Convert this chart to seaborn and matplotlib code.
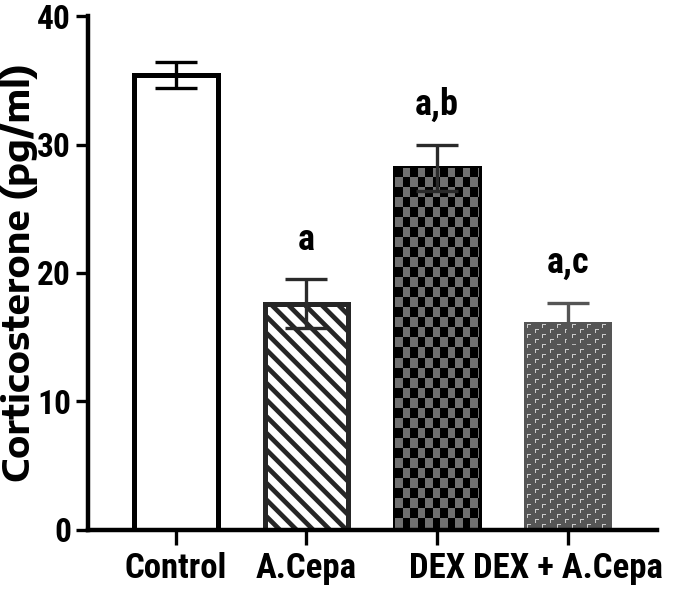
import numpy as np
import pandas as pd
import matplotlib
matplotlib.use("Agg")
import matplotlib.pyplot as plt
from matplotlib.colors import ListedColormap
import seaborn as sns

groups = ["Control", "A.Cepa", "DEX", "DEX + A.Cepa"]
means = [35.4, 17.6, 28.2, 16.0]
errors = [1.0, 1.9, 1.8, 1.7]
letters = ["", "a", "a,b", "a,c"]

face_colors = ["white", "white", "#6e6e6e", "#555555"]
edge_colors = ["black", "#262626", "black", "#555555"]
err_colors = ["black", "#2a2a2a", "#2a2a2a", "#555555"]

df = pd.DataFrame({"group": groups, "mean": means})

sns.set_style("white")
plt.rcParams["font.family"] = ["Roboto Condensed", "DejaVu Sans"]
plt.rcParams["font.weight"] = "bold"
plt.rcParams["text.color"] = "black"
plt.rcParams["xtick.color"] = "black"
plt.rcParams["ytick.color"] = "black"
plt.rcParams["axes.labelcolor"] = "black"
plt.rcParams["axes.edgecolor"] = "black"
plt.rcParams["hatch.linewidth"] = 3.4
plt.rcParams["hatch.color"] = "black"

fig = plt.figure(figsize=(6.86, 5.96), dpi=100)
ax = fig.add_axes([0.128, 0.111, 0.83, 0.862])

sns.barplot(data=df, x="group", y="mean", hue="group", palette=dict(zip(groups, face_colors)),
            width=0.64, errorbar=None, legend=False, ax=ax, zorder=2)

ax.set_xlim(-0.674, 3.686)
ax.set_ylim(0, 40)


def texture(p, kind):
    # pixel-sized fill pattern clipped to the bar
    bb = p.get_window_extent()
    w, h = int(round(bb.width)), int(round(bb.height))
    yy, xx = np.indices((h, w))
    if kind == "checker":
        arr = ((xx // 7.5).astype(int) + (yy // 10).astype(int)) % 2
        cmap = ListedColormap(["black", "#707070"])
    else:
        tx, ty = xx % 15, yy % 10
        sub = (tx >= 8).astype(int)
        ty = (ty + sub * 5) % 10
        tx = tx % 8
        arr = (((ty == 0) & (tx >= 1) & (tx <= 4)) | ((tx == 1) & (ty <= 3))).astype(int)
        cmap = ListedColormap(["#555555", "#cccccc"])
    x0, pw, ph = p.get_x(), p.get_width(), p.get_height()
    im = ax.imshow(arr, cmap=cmap, extent=(x0, x0 + pw, 0, ph), aspect="auto",
                   interpolation="nearest", origin="upper", zorder=2.1)
    im.set_clip_path(p)


for i, p in enumerate(ax.patches):
    p.set_edgecolor(edge_colors[i])
    p.set_linewidth(3.6)
    p.set_joinstyle("miter")

ax.patches[1].set_hatch("\\\\")
texture(ax.patches[2], "checker")
texture(ax.patches[3], "marks")
ax.set_xlim(-0.674, 3.686)
ax.set_ylim(0, 40)

for i, p in enumerate(ax.patches):
    cx = p.get_x() + p.get_width() / 2
    ax.errorbar(cx, means[i], yerr=errors[i], color=err_colors[i], elinewidth=2.4, capsize=15,
                capthick=2.4, zorder=3)
    if letters[i]:
        ax.text(cx, means[i] + errors[i] + 3.1, letters[i], ha="center", va="center",
                fontsize=26, fontweight="bold")

ax.set_yticks([0, 10, 20, 30, 40])
ax.set_xlabel("")
ax.set_ylabel("Corticosterone (pg/ml)", fontsize=26, fontweight="bold",
              family=["Encode Sans Semi Expanded", "DejaVu Sans"])
ax.yaxis.set_label_coords(-0.088, 0.5)
sns.despine(ax=ax)
for s in ["left", "bottom"]:
    ax.spines[s].set_linewidth(3.2)
ax.tick_params(axis="y", length=9, width=2.4, labelsize=24, pad=3, left=True)
ax.tick_params(axis="x", length=11, width=2.4, labelsize=25, pad=5, bottom=True)
for lab in ax.get_xticklabels() + ax.get_yticklabels():
    lab.set_fontweight("bold")

fig.savefig("out.png", dpi=100)
